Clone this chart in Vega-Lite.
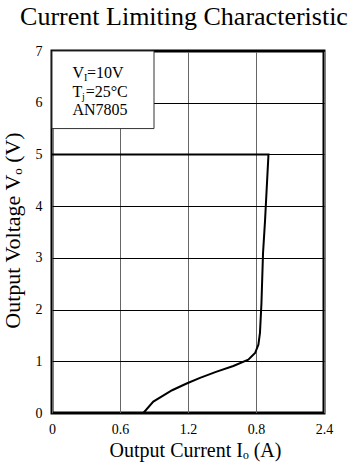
{
  "$schema": "https://vega.github.io/schema/vega-lite/v6.json",
  "width": 272,
  "height": 362,
  "autosize": {"type": "none"},
  "padding": {"left": 52, "top": 51, "right": 39, "bottom": 53},
  "background": "white",
  "title": {
    "text": "Current Limiting Characteristic",
    "font": "Liberation Serif",
    "fontSize": 26,
    "fontWeight": "normal",
    "color": "#000",
    "baseline": "alphabetic",
    "offset": -7,
    "dx": -4
  },
  "config": {
    "view": {"stroke": "#000", "strokeWidth": 3},
    "axis": {
      "labelFont": "Liberation Serif",
      "labelFontSize": 14,
      "labelColor": "#000",
      "titleFont": "Liberation Serif, DejaVu Serif, serif",
      "titleFontWeight": "normal",
      "titleColor": "#000",
      "domain": false,
      "ticks": false,
      "labelFlush": false,
      "labelOverlap": false,
      "labelBound": false,
      "gridWidth": 1,
      "gridOpacity": 1
    }
  },
  "datasets": {
    "curve": [
      {"I": 0, "V": 5, "k": 0},
      {"I": 1.91, "V": 5, "k": 1},
      {"I": 1.88, "V": 3.73, "k": 2},
      {"I": 1.862, "V": 3.09, "k": 3},
      {"I": 1.848, "V": 2.12, "k": 4},
      {"I": 1.835, "V": 1.55, "k": 5},
      {"I": 1.821, "V": 1.32, "k": 6},
      {"I": 1.792, "V": 1.16, "k": 7},
      {"I": 1.732, "V": 1.03, "k": 8},
      {"I": 1.6, "V": 0.91, "k": 9},
      {"I": 1.453, "V": 0.8, "k": 10},
      {"I": 1.306, "V": 0.68, "k": 11},
      {"I": 1.188, "V": 0.57, "k": 12},
      {"I": 1.06, "V": 0.44, "k": 13},
      {"I": 0.894, "V": 0.22, "k": 14},
      {"I": 0.806, "V": 0, "k": 15}
    ],
    "box": [{"I0": 0, "I1": 0.9, "V0": 5.5, "V1": 7}],
    "note": [
      {"id": "vi", "line": "V", "sub": "I", "rest": "=10V", "I": 0.18, "V": 6.47},
      {"id": "tj", "line": "T", "sub": "j", "rest": "=25°C", "I": 0.18, "V": 6.12},
      {"id": "an", "line": "AN7805", "sub": "", "rest": "", "I": 0.18, "V": 5.77}
    ]
  },
  "layer": [
    {
      "data": {"name": "box"},
      "mark": {"type": "rect", "fill": "white", "stroke": "#333", "strokeWidth": 1},
      "encoding": {
        "x": {
          "field": "I0",
          "type": "quantitative",
          "scale": {"domain": [0, 2.4], "nice": false, "zero": false},
          "axis": {
            "values": [0, 0.3, 0.6, 0.9, 1.2, 1.5, 1.8, 2.1, 2.4],
            "labelExpr": "round(datum.value*10) % 6 == 0 ? (round(datum.value*10) == 18 ? '0.8' : toString(datum.value)) : ''",
            "grid": true,
            "gridColor": "#666",
            "labelPadding": 9,
            "title": "Output Current  Iₒ (A)",
            "titleFontSize": 20,
            "titleX": 143,
            "titleY": 43,
            "titleAlign": "center",
            "titleBaseline": "alphabetic"
          }
        },
        "x2": {"field": "I1"},
        "y": {
          "field": "V0",
          "type": "quantitative",
          "scale": {"domain": [0, 7], "nice": false, "zero": false},
          "axis": {
            "values": [0, 0.5, 1, 1.5, 2, 2.5, 3, 3.5, 4, 4.5, 5, 5.5, 6, 6.5, 7],
            "labelExpr": "datum.value % 1 == 0 ? toString(datum.value) : ''",
            "grid": true,
            "gridColor": "#000",
            "labelPadding": 10,
            "title": "Output Voltage  Vₒ (V)",
            "titleFontSize": 22,
            "titleX": -33,
            "titleY": 179,
            "titleAngle": -90,
            "titleAlign": "center",
            "titleBaseline": "alphabetic"
          }
        },
        "y2": {"field": "V1"}
      }
    },
    {
      "data": {"name": "curve"},
      "mark": {"type": "line", "color": "#000", "strokeWidth": 2},
      "encoding": {
        "x": {"field": "I", "type": "quantitative"},
        "y": {"field": "V", "type": "quantitative"},
        "order": {"field": "k", "type": "quantitative"}
      }
    },
    {
      "data": {"name": "note"},
      "mark": {"type": "text", "align": "left", "baseline": "alphabetic", "font": "Liberation Serif", "fontSize": 16, "color": "#000"},
      "encoding": {
        "x": {"field": "I", "type": "quantitative"},
        "y": {"field": "V", "type": "quantitative"},
        "text": {"field": "line"}
      }
    },
    {
      "data": {"name": "note"},
      "transform": [{"filter": "datum.id == 'vi'"}],
      "mark": {"type": "text", "align": "left", "baseline": "alphabetic", "font": "Liberation Serif", "fontSize": 10, "color": "#000", "dx": 11.6, "dy": 3},
      "encoding": {
        "x": {"field": "I", "type": "quantitative"},
        "y": {"field": "V", "type": "quantitative"},
        "text": {"field": "sub"}
      }
    },
    {
      "data": {"name": "note"},
      "transform": [{"filter": "datum.id == 'vi'"}],
      "mark": {"type": "text", "align": "left", "baseline": "alphabetic", "font": "Liberation Serif", "fontSize": 16, "color": "#000", "dx": 14.6},
      "encoding": {
        "x": {"field": "I", "type": "quantitative"},
        "y": {"field": "V", "type": "quantitative"},
        "text": {"field": "rest"}
      }
    },
    {
      "data": {"name": "note"},
      "transform": [{"filter": "datum.id == 'tj'"}],
      "mark": {"type": "text", "align": "left", "baseline": "alphabetic", "font": "Liberation Serif", "fontSize": 10, "color": "#000", "dx": 9.6, "dy": 3},
      "encoding": {
        "x": {"field": "I", "type": "quantitative"},
        "y": {"field": "V", "type": "quantitative"},
        "text": {"field": "sub"}
      }
    },
    {
      "data": {"name": "note"},
      "transform": [{"filter": "datum.id == 'tj'"}],
      "mark": {"type": "text", "align": "left", "baseline": "alphabetic", "font": "Liberation Serif", "fontSize": 16, "color": "#000", "dx": 13.3},
      "encoding": {
        "x": {"field": "I", "type": "quantitative"},
        "y": {"field": "V", "type": "quantitative"},
        "text": {"field": "rest"}
      }
    }
  ]
}
